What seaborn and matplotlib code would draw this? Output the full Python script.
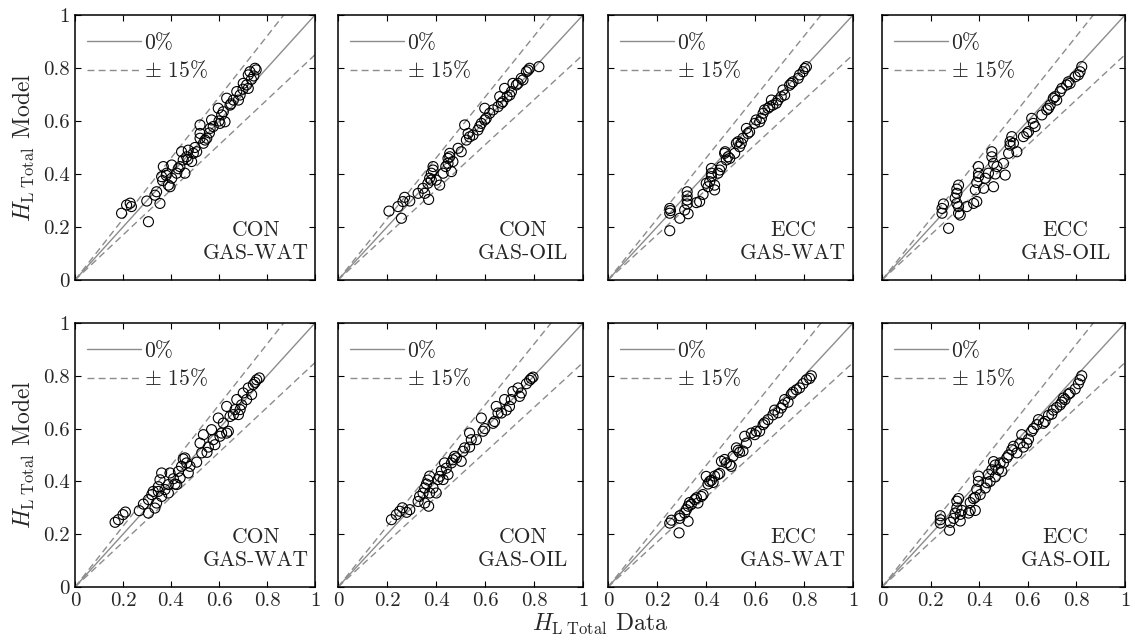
import pandas as pd
import seaborn as sns
import matplotlib
matplotlib.use('Agg')
import matplotlib.pyplot as plt
from matplotlib.ticker import FuncFormatter

# --- data (H_L total: data vs model) ---
con_gw_top_x = [0.194, 0.215, 0.23, 0.235, 0.299, 0.306, 0.333, 0.34, 0.354, 0.368, 0.361, 0.365, 0.382, 0.389, 0.396,
                0.403, 0.403, 0.424, 0.437, 0.444, 0.451, 0.458, 0.465, 0.472, 0.486, 0.493, 0.507, 0.521, 0.521, 0.521,
                0.535, 0.542, 0.549, 0.563, 0.569, 0.576, 0.597, 0.604, 0.611, 0.618, 0.625, 0.632, 0.646, 0.66, 0.674,
                0.681, 0.688, 0.701, 0.715, 0.722, 0.722, 0.729, 0.75, 0.755,
                0.38, 0.5, 0.56, 0.65, 0.7, 0.735, 0.745, 0.6, 0.47, 0.43]
con_gw_top_y = [0.252, 0.283, 0.29, 0.277, 0.298, 0.22, 0.32, 0.333, 0.289, 0.428, 0.39, 0.375, 0.403, 0.358, 0.352,
                0.434, 0.384, 0.403, 0.428, 0.484, 0.453, 0.403, 0.465, 0.49, 0.447, 0.478, 0.484, 0.585, 0.535, 0.553,
                0.516, 0.528, 0.535, 0.572, 0.604, 0.579, 0.648, 0.591, 0.623, 0.635, 0.597, 0.686, 0.66, 0.679, 0.711,
                0.679, 0.698, 0.742, 0.736, 0.774, 0.723, 0.786, 0.799, 0.793,
                0.395, 0.5, 0.555, 0.665, 0.72, 0.757, 0.77, 0.6, 0.455, 0.42]

con_go_top_x = [0.208, 0.245, 0.265, 0.272, 0.259, 0.293, 0.327, 0.347, 0.354, 0.37, 0.367, 0.374, 0.381, 0.388, 0.388,
                0.381, 0.401, 0.415, 0.429, 0.44, 0.449, 0.449, 0.456, 0.456, 0.463, 0.469, 0.49, 0.503, 0.517, 0.524,
                0.531, 0.537, 0.551, 0.571, 0.578, 0.585, 0.599, 0.605, 0.599, 0.619, 0.633, 0.653, 0.66, 0.667, 0.673,
                0.68, 0.69, 0.701, 0.708, 0.714, 0.728, 0.735, 0.748, 0.755, 0.769, 0.776, 0.782, 0.82]
con_go_top_y = [0.26, 0.277, 0.296, 0.312, 0.233, 0.298, 0.327, 0.346, 0.327, 0.304, 0.365, 0.384, 0.403, 0.428, 0.415,
                0.377, 0.377, 0.358, 0.403, 0.428, 0.44, 0.459, 0.478, 0.465, 0.409, 0.447, 0.497, 0.484, 0.585, 0.528,
                0.553, 0.54, 0.547, 0.566, 0.579, 0.591, 0.604, 0.61, 0.648, 0.629, 0.642, 0.654, 0.692, 0.667, 0.673,
                0.723, 0.692, 0.698, 0.711, 0.742, 0.736, 0.742, 0.761, 0.755, 0.786, 0.792, 0.799, 0.805]

ecc_gw_top_x = [0.252, 0.252, 0.255, 0.252, 0.293, 0.313, 0.323, 0.323, 0.323, 0.323, 0.327, 0.361, 0.374, 0.388, 0.401,
                0.408, 0.415, 0.422, 0.422, 0.422, 0.435, 0.435, 0.449, 0.456, 0.463, 0.476, 0.478, 0.483, 0.49, 0.497,
                0.517, 0.524, 0.531, 0.537, 0.544, 0.551, 0.565, 0.571, 0.578, 0.599, 0.605, 0.619, 0.626, 0.633, 0.639,
                0.653, 0.66, 0.667, 0.673, 0.687, 0.694, 0.707, 0.714, 0.721, 0.741, 0.748, 0.755, 0.776, 0.782, 0.796,
                0.803, 0.81]
ecc_gw_top_y = [0.27, 0.252, 0.262, 0.186, 0.233, 0.264, 0.333, 0.317, 0.302, 0.287, 0.25, 0.292, 0.296, 0.323, 0.365,
                0.352, 0.371, 0.39, 0.403, 0.421, 0.34, 0.358, 0.403, 0.415, 0.428, 0.478, 0.484, 0.453, 0.465, 0.459,
                0.478, 0.516, 0.522, 0.503, 0.516, 0.535, 0.572, 0.553, 0.559, 0.591, 0.604, 0.597, 0.61, 0.629, 0.642,
                0.648, 0.654, 0.679, 0.66, 0.667, 0.679, 0.692, 0.717, 0.698, 0.735, 0.742, 0.748, 0.761, 0.774, 0.786,
                0.798, 0.805]

ecc_go_top_x = [0.247, 0.247, 0.253, 0.274, 0.301, 0.308, 0.308, 0.308, 0.315, 0.315, 0.315, 0.322, 0.349, 0.377, 0.384,
                0.39, 0.397, 0.397, 0.397, 0.39, 0.418, 0.425, 0.438, 0.452, 0.452, 0.459, 0.459, 0.466, 0.473, 0.5,
                0.507, 0.521, 0.527, 0.527, 0.534, 0.541, 0.555, 0.582, 0.596, 0.603, 0.616, 0.623, 0.63, 0.658, 0.678,
                0.685, 0.692, 0.705, 0.712, 0.719, 0.733, 0.74, 0.76, 0.767, 0.774, 0.795, 0.808, 0.815, 0.822]
ecc_go_top_y = [0.252, 0.27, 0.287, 0.195, 0.309, 0.343, 0.327, 0.289, 0.358, 0.277, 0.252, 0.245, 0.277, 0.289, 0.34,
                0.368, 0.428, 0.403, 0.39, 0.296, 0.346, 0.384, 0.403, 0.484, 0.465, 0.44, 0.352, 0.4, 0.428, 0.44,
                0.396, 0.478, 0.509, 0.522, 0.541, 0.516, 0.484, 0.541, 0.553, 0.56, 0.61, 0.591, 0.579, 0.623, 0.642,
                0.648, 0.66, 0.686, 0.692, 0.679, 0.711, 0.723, 0.736, 0.748, 0.742, 0.767, 0.774, 0.786, 0.805]

con_gw_bot_x = [0.167, 0.181, 0.2, 0.21, 0.268, 0.285, 0.306, 0.306, 0.32, 0.326, 0.333, 0.34, 0.347, 0.354, 0.361,
                0.347, 0.361, 0.375, 0.389, 0.389, 0.396, 0.41, 0.417, 0.424, 0.431, 0.438, 0.444, 0.451, 0.458, 0.465,
                0.472, 0.479, 0.507, 0.521, 0.528, 0.535, 0.55, 0.556, 0.569, 0.576, 0.583, 0.597, 0.604, 0.611, 0.618,
                0.632, 0.632, 0.639, 0.646, 0.66, 0.667, 0.674, 0.681, 0.688, 0.694, 0.701, 0.715, 0.722, 0.736, 0.743,
                0.75, 0.757, 0.768]
con_gw_bot_y = [0.245, 0.255, 0.274, 0.284, 0.289, 0.314, 0.28, 0.331, 0.35, 0.362, 0.299, 0.318, 0.38, 0.406, 0.432,
                0.362, 0.343, 0.369, 0.356, 0.388, 0.432, 0.41, 0.39, 0.388, 0.438, 0.413, 0.457, 0.485, 0.489, 0.47,
                0.432, 0.457, 0.473, 0.545, 0.508, 0.577, 0.51, 0.53, 0.596, 0.558, 0.539, 0.64, 0.571, 0.583, 0.621,
                0.684, 0.583, 0.59, 0.646, 0.653, 0.672, 0.71, 0.653, 0.672, 0.69, 0.735, 0.71, 0.754, 0.729, 0.767,
                0.775, 0.785, 0.792]

con_go_bot_x = [0.218, 0.238, 0.252, 0.263, 0.28, 0.293, 0.327, 0.333, 0.347, 0.354, 0.361, 0.367, 0.374, 0.354, 0.37,
                0.374, 0.388, 0.401, 0.408, 0.415, 0.422, 0.429, 0.435, 0.442, 0.449, 0.463, 0.469, 0.476, 0.483, 0.503,
                0.51, 0.517, 0.537, 0.537, 0.544, 0.565, 0.585, 0.592, 0.599, 0.633, 0.639, 0.646, 0.653, 0.667, 0.68,
                0.687, 0.7, 0.707, 0.714, 0.735, 0.741, 0.748, 0.769, 0.782, 0.789, 0.796]
con_go_bot_y = [0.255, 0.274, 0.287, 0.3, 0.283, 0.293, 0.324, 0.343, 0.356, 0.375, 0.39, 0.405, 0.42, 0.318, 0.306,
                0.356, 0.375, 0.356, 0.407, 0.419, 0.44, 0.407, 0.47, 0.45, 0.426, 0.47, 0.482, 0.495, 0.489, 0.476,
                0.514, 0.527, 0.583, 0.53, 0.558, 0.558, 0.64, 0.59, 0.6, 0.62, 0.627, 0.684, 0.659, 0.659, 0.71,
                0.67, 0.684, 0.71, 0.741, 0.754, 0.722, 0.735, 0.77, 0.783, 0.79, 0.795]

ecc_gw_bot_x = [0.252, 0.259, 0.293, 0.293, 0.29, 0.313, 0.32, 0.327, 0.333, 0.34, 0.327, 0.354, 0.361, 0.367, 0.381,
                0.388, 0.401, 0.408, 0.415, 0.422, 0.429, 0.435, 0.449, 0.456, 0.463, 0.476, 0.483, 0.497, 0.503, 0.51,
                0.524, 0.531, 0.537, 0.551, 0.565, 0.558, 0.585, 0.599, 0.605, 0.619, 0.633, 0.639, 0.653, 0.673, 0.68,
                0.694, 0.707, 0.714, 0.721, 0.735, 0.748, 0.755, 0.769, 0.782, 0.796, 0.81, 0.823, 0.83]
ecc_gw_bot_y = [0.242, 0.253, 0.27, 0.26, 0.205, 0.28, 0.293, 0.306, 0.32, 0.313, 0.249, 0.331, 0.338, 0.318, 0.343,
                0.35, 0.419, 0.39, 0.4, 0.404, 0.396, 0.42, 0.426, 0.43, 0.476, 0.483, 0.47, 0.464, 0.457, 0.495,
                0.527, 0.518, 0.51, 0.515, 0.545, 0.571, 0.583, 0.577, 0.59, 0.59, 0.615, 0.622, 0.634, 0.652, 0.67,
                0.66, 0.678, 0.69, 0.71, 0.7, 0.73, 0.738, 0.747, 0.754, 0.77, 0.785, 0.79, 0.8]

ecc_go_bot_x = [0.24, 0.24, 0.24, 0.278, 0.281, 0.295, 0.301, 0.308, 0.308, 0.315, 0.322, 0.322, 0.329, 0.356, 0.363,
                0.363, 0.377, 0.384, 0.384, 0.39, 0.397, 0.397, 0.404, 0.425, 0.432, 0.438, 0.445, 0.452, 0.459, 0.466,
                0.466, 0.479, 0.486, 0.493, 0.5, 0.514, 0.521, 0.534, 0.541, 0.555, 0.568, 0.575, 0.582, 0.596, 0.603,
                0.616, 0.623, 0.637, 0.644, 0.664, 0.671, 0.685, 0.699, 0.705, 0.719, 0.733, 0.74, 0.747, 0.753, 0.767,
                0.774, 0.795, 0.808, 0.815, 0.822]
ecc_go_bot_y = [0.27, 0.255, 0.242, 0.215, 0.245, 0.26, 0.28, 0.325, 0.3, 0.335, 0.25, 0.275, 0.29, 0.28, 0.29,
                0.32, 0.335, 0.34, 0.29, 0.37, 0.4, 0.42, 0.35, 0.375, 0.395, 0.427, 0.4, 0.444, 0.475, 0.462,
                0.417, 0.444, 0.47, 0.438, 0.47, 0.49, 0.5, 0.52, 0.533, 0.508, 0.545, 0.577, 0.53, 0.545, 0.56,
                0.59, 0.6, 0.615, 0.634, 0.62, 0.627, 0.65, 0.655, 0.67, 0.68, 0.69, 0.7, 0.716, 0.71, 0.73,
                0.735, 0.75, 0.77, 0.785, 0.8]

geometry = ['CON', 'CON', 'ECC', 'ECC']
fluids = ['GAS-WAT', 'GAS-OIL', 'GAS-WAT', 'GAS-OIL']
panels = [
    [(con_gw_top_x, con_gw_top_y), (con_go_top_x, con_go_top_y), (ecc_gw_top_x, ecc_gw_top_y), (ecc_go_top_x, ecc_go_top_y)],
    [(con_gw_bot_x, con_gw_bot_y), (con_go_bot_x, con_go_bot_y), (ecc_gw_bot_x, ecc_gw_bot_y), (ecc_go_bot_x, ecc_go_bot_y)],
]
ticks = [0, 0.2, 0.4, 0.6, 0.8, 1]
band = 0.15

sns.set_style('ticks', {'xtick.direction': 'in', 'ytick.direction': 'in'})
plt.rcParams['font.family'] = ['cmr10', 'DejaVu Serif']
plt.rcParams['mathtext.fontset'] = 'cm'
plt.rcParams['axes.formatter.use_mathtext'] = True

W, H = 1135, 644
fig = plt.figure(figsize=(W / 100, H / 100), dpi=100)

# axes boxes in pixels (left, top, width, height)
col_left = [75, 338, 608, 882]
col_width = [240, 245, 245, 243]
row_top = [15, 323]
row_height = [265, 264]

gray = '#8c8c8c'
for r in range(2):
    for c in range(4):
        l, t, w, h = col_left[c], row_top[r], col_width[c], row_height[r]
        ax = fig.add_axes([l / W, 1 - (t + h) / H, w / W, h / H])
        xs, ys = panels[r][c]
        df = pd.DataFrame({'data': xs, 'model': ys})

        ax.plot([0, 1], [0, 1], color=gray, lw=1.0, label='0%')
        ax.plot([0, 1], [0, 1 + band], color=gray, lw=1.0, ls=(0, (5, 3)), label=r'$\pm$ 15%')
        ax.plot([0, 1], [0, 1 - band], color=gray, lw=1.0, ls=(0, (5, 3)))

        sns.scatterplot(data=df, x='data', y='model', ax=ax, marker='o', s=52,
                        facecolors='none', edgecolor='black', linewidth=0.8, zorder=3)

        ax.set_xlim(0, 1)
        ax.set_ylim(0, 1)
        ax.set_xticks(ticks)
        ax.set_yticks(ticks)
        fmt = FuncFormatter(lambda v, p: '{:g}'.format(v))
        ax.xaxis.set_major_formatter(fmt)
        ax.yaxis.set_major_formatter(fmt)
        ax.tick_params(direction='in', top=True, right=True, length=4, width=0.8,
                       labelsize=15, pad=4, color='black')
        for s in ax.spines.values():
            s.set_linewidth(1.1)
            s.set_color('black')
        ax.set_xlabel('')
        ax.set_ylabel('')
        if r == 0:
            ax.tick_params(labelbottom=False)
        if c > 0:
            ax.tick_params(labelleft=False)
        else:
            ax.set_ylabel(r'$H_{\mathrm{L\ Total}}$ Model', fontsize=17, labelpad=4)

        ax.legend(loc='upper left', frameon=False, fontsize=15.5, handlelength=2.5,
                  handletextpad=0.15, borderaxespad=0.15, labelspacing=0.3,
                  bbox_to_anchor=(0.0, 0.975))
        ax.text(0.755, 0.065, geometry[c] + '\n' + fluids[c], transform=ax.transAxes,
                ha='center', va='bottom', fontsize=15.5, linespacing=1.2, multialignment='center')

fig.text(600 / W, 1 - 624 / H, r'$H_{\mathrm{L\ Total}}$ Data', ha='center', va='center', fontsize=17)

fig.savefig('out.png', dpi=100)
